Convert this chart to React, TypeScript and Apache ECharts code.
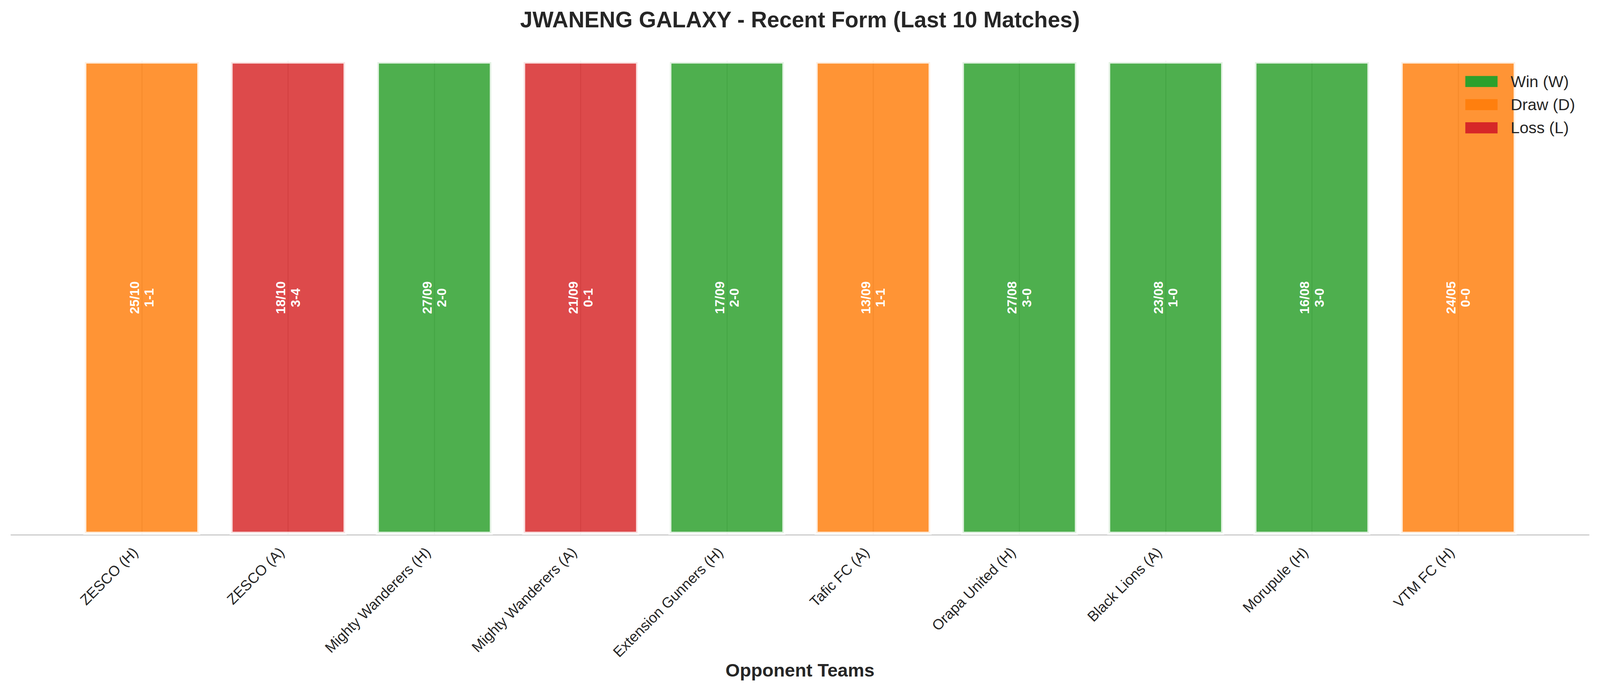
import React, { useEffect, useRef, useState } from "react";
import * as echarts from "echarts";

const opponents = [
  "ZESCO (H)",
  "ZESCO (A)",
  "Mighty Wanderers (H)",
  "Mighty Wanderers (A)",
  "Extension Gunners (H)",
  "Tafic FC (A)",
  "Orapa United (H)",
  "Black Lions (A)",
  "Morupule (H)",
  "VTM FC (H)",
];
const dates = ["25/10", "18/10", "27/09", "21/09", "17/09", "13/09", "27/08", "23/08", "16/08", "24/05"];
const scores = ["1-1", "3-4", "2-0", "0-1", "2-0", "1-1", "3-0", "1-0", "3-0", "0-0"];
const results = ["D", "L", "W", "L", "W", "D", "W", "W", "W", "D"];
const barHeight = 1;

const resultKinds = [
  { key: "W", name: "Win (W)", color: "#2ca02c", rgba: "rgba(44,160,44,0.84)" },
  { key: "D", name: "Draw (D)", color: "#ff7f0e", rgba: "rgba(255,127,14,0.84)" },
  { key: "L", name: "Loss (L)", color: "#d62728", rgba: "rgba(214,39,40,0.84)" },
];

const FONT = "'Liberation Sans', Arial, Helvetica, sans-serif";
const TEXT = "#262626";
const BASE_W = 4170;
const BASE_H = 1769;

function viewSize() {
  const w = typeof window !== "undefined" && window.innerWidth ? window.innerWidth : BASE_W;
  const h = typeof window !== "undefined" && window.innerHeight ? window.innerHeight : BASE_H;
  return { w: Math.min(w, BASE_W), h: Math.min(h, BASE_H) };
}

export default function App() {
  const ref = useRef<HTMLDivElement>(null);
  const [size] = useState(() => {
    if (typeof document !== "undefined") document.body.style.margin = "0";
    return viewSize();
  });
  useEffect(() => {
    document.body.style.margin = "0";
    document.body.style.overflow = "hidden";
    if (!ref.current) return;
    const sx = size.w / BASE_W;
    const sy = size.h / BASE_H;
    const s = Math.min(sx, sy);
    const X = (v: number) => v * sx;
    const Y = (v: number) => v * sy;
    const F = (v: number) => v * s;

    const chart = echarts.init(ref.current, null, { renderer: "svg" });

    const barSeries = resultKinds.map((k) => ({
      name: k.name,
      type: "bar",
      xAxisIndex: 1,
      yAxisIndex: 1,
      stack: "form",
      barWidth: "80%",
      z: 3,
      itemStyle: {
        color: k.rgba,
        borderColor: "rgba(255,255,255,0.84)",
        borderWidth: F(8),
      },
      label: {
        show: true,
        position: "inside",
        rotate: 90,
        color: "#ffffff",
        fontWeight: "bold",
        fontSize: F(34),
        lineHeight: F(38),
        fontFamily: FONT,
        formatter: (p: any) => dates[p.dataIndex] + "\n" + scores[p.dataIndex],
      },
      data: results.map((r) => (r === k.key ? barHeight : "-")),
    }));

    const option: any = {
      animation: false,
      backgroundColor: "#ffffff",
      title: [
        {
          text: "JWANENG GALAXY - Recent Form (Last 10 Matches)",
          left: "center",
          top: Y(16),
          textStyle: { fontFamily: FONT, fontSize: F(58), fontWeight: "bold", color: TEXT },
        },
        {
          text: "Opponent Teams",
          left: "center",
          top: Y(1687),
          textStyle: { fontFamily: FONT, fontSize: F(48), fontWeight: "bold", color: TEXT },
        },
      ],
      legend: {
        orient: "vertical",
        left: X(3819),
        top: Y(188),
        padding: 0,
        itemWidth: F(84),
        itemHeight: F(29),
        itemGap: Y(18),
        icon: "rect",
        textStyle: {
          fontFamily: FONT,
          fontSize: F(42),
          lineHeight: F(42),
          color: TEXT,
          padding: [0, 0, 0, F(29)],
        },
        data: resultKinds.map((k) => ({
          name: k.name,
          itemStyle: { color: k.color, borderWidth: 0, opacity: 1 },
        })),
      },
      grid: [
        { left: X(29), width: X(4112), top: Y(155), height: Y(1214) },
        { left: X(179), width: X(3812), top: Y(155), height: Y(1214) },
      ],
      xAxis: [
        {
          type: "value",
          gridIndex: 0,
          min: 0,
          max: 1,
          axisLine: { show: true, lineStyle: { color: "#cccccc", width: F(3) } },
          axisTick: { show: false },
          axisLabel: { show: false },
          splitLine: { show: false },
        },
        {
          type: "category",
          gridIndex: 1,
          data: opponents,
          axisLine: { show: false },
          axisTick: { show: false },
          splitLine: { show: false },
          axisLabel: {
            rotate: 45,
            interval: 0,
            margin: F(22),
            padding: [0, F(24), 0, 0],
            fontFamily: FONT,
            fontSize: F(38),
            color: TEXT,
          },
        },
      ],
      yAxis: [
        { type: "value", gridIndex: 0, show: false, min: 0, max: 1 },
        { type: "value", gridIndex: 1, show: false, min: 0, max: 1 },
      ],
      series: [
        {
          name: "grid",
          type: "line",
          xAxisIndex: 1,
          yAxisIndex: 1,
          z: 1,
          data: [],
          silent: true,
          markLine: {
            silent: true,
            z: 1,
            symbol: ["none", "none"],
            label: { show: false },
            lineStyle: { color: "#cccccc", width: F(3), type: "solid", opacity: 1 },
            data: opponents.map((o) => ({ xAxis: o })),
          },
        },
        ...barSeries,
      ],
    };
    chart.setOption(option);
    return () => chart.dispose();
  }, [size]);
  return <div ref={ref} style={{ width: size.w, height: size.h }} />;
}
